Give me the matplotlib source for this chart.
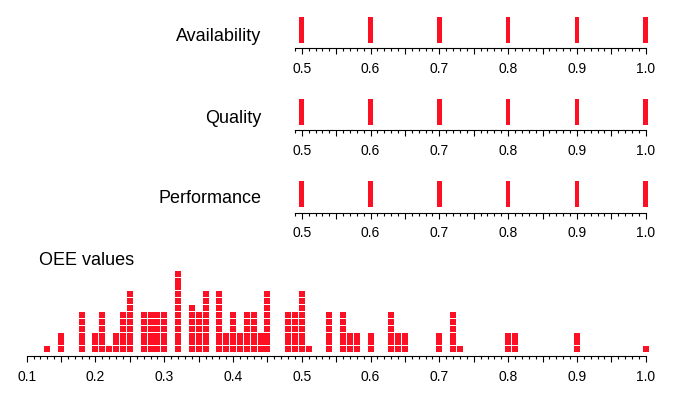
import numpy as np
import matplotlib.pyplot as plt

# values shown on the three factor rows
availability = [0.5, 0.6, 0.7, 0.8, 0.9, 1.0]
quality = [0.5, 0.6, 0.7, 0.8, 0.9, 1.0]
performance = [0.5, 0.6, 0.7, 0.8, 0.9, 1.0]

# OEE dot plot: stack position and number of dots in each stack
oee_bins = [0.13, 0.15, 0.18, 0.20, 0.21, 0.22, 0.23, 0.24, 0.25, 0.27,
            0.28, 0.29, 0.30, 0.32, 0.34, 0.35, 0.36, 0.38, 0.39, 0.40,
            0.41, 0.42, 0.43, 0.44, 0.45, 0.48, 0.49, 0.50, 0.51, 0.54,
            0.56, 0.57, 0.58, 0.60, 0.63, 0.64, 0.65, 0.70, 0.72, 0.73,
            0.80, 0.81, 0.90, 1.00]
oee_counts = [1, 3, 6, 3, 6, 1, 3, 6, 9, 6,
              6, 6, 6, 12, 7, 6, 9, 9, 3, 6,
              3, 6, 6, 3, 9, 6, 6, 9, 1, 6,
              6, 3, 3, 3, 6, 3, 3, 3, 6, 1,
              3, 3, 3, 1]

RED = '#fd1024'
W, H = 676, 394

plt.rcParams['font.family'] = ['Liberation Sans', 'DejaVu Sans']
fig = plt.figure(figsize=(W / 100, H / 100), dpi=100)


def addAxes(left, axisY, width, height):
    # pixel layout, axisY is the y of the axis line measured from the top
    return fig.add_axes([left / W, 1 - axisY / H, width / W, height / H])


def styleAxis(ax, lo, hi, labelFrom):
    for s in ['top', 'right', 'left']:
        ax.spines[s].set_visible(False)
    ax.spines['bottom'].set_linewidth(0.8)
    ax.set_yticks([])
    ax.set_xlim(lo, hi)
    major = np.round(np.arange(labelFrom, hi + 0.001, 0.05), 2)
    labels = [f'{v:.1f}' if round(v * 100) % 10 == 0 else '' for v in major]
    ax.set_xticks(major, labels)
    ax.set_xticks(np.round(np.arange(lo, hi + 0.001, 0.01), 2), minor=True)
    ax.tick_params(which='major', length=4.4, width=0.8, pad=5.4, labelsize=10)
    ax.tick_params(which='minor', length=2.4, width=0.8)


rows = [('Availability', availability, 48.3, 41.0),
        ('Quality', quality, 130.3, 123.3),
        ('Performance', performance, 212.5, 203.3)]
for name, vals, axisY, textY in rows:
    ax = addAxes(294.9, axisY, 350.8, 31.6)
    styleAxis(ax, 0.49, 1.0, 0.5)
    ax.set_ylim(0, 1)
    ax.bar(vals, 0.82, bottom=0.18, width=0.0068, color=RED, clip_on=False)
    fig.text(261.5 / W, 1 - textY / H, name, ha='right', va='baseline',
             fontsize=13)

# OEE dot plot
ax = addAxes(26.7, 356.2, 619.0, 86.0)
styleAxis(ax, 0.1, 1.0, 0.1)
ax.set_ylim(-1, 11.5)
xs, ys = [], []
for b, c in zip(oee_bins, oee_counts):
    xs += [b] * c
    ys += list(range(c))
ax.scatter(xs, ys, marker='s', s=17, color=RED, linewidths=0, clip_on=False)
fig.text(39.2 / W, 1 - 265 / H, 'OEE values', ha='left', va='baseline',
         fontsize=13)

fig.savefig('out.png', dpi=100)
